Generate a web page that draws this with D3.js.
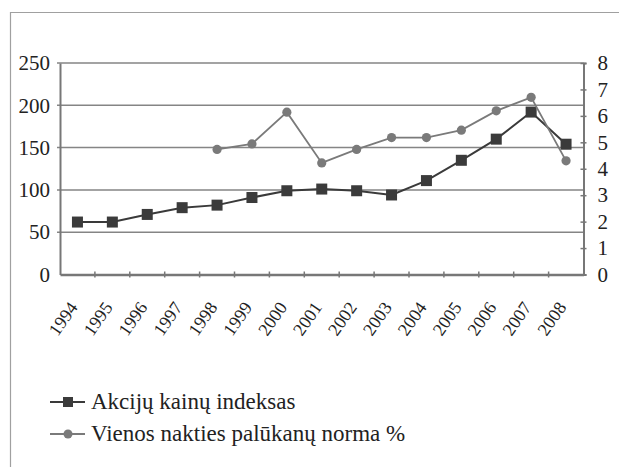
<!DOCTYPE html>
<html>
<head>
<meta charset="utf-8">
<script src="https://cdn.jsdelivr.net/npm/d3@7"></script>
<style>
  body { margin: 0; background: #fff; }
</style>
</head>
<body>
<div id="chart"></div>
<script>
const years = ["1994", "1995", "1996", "1997", "1998", "1999", "2000", "2001",
               "2002", "2003", "2004", "2005", "2006", "2007", "2008"];
// Akcijų kainų indeksas (left axis)
const stockIndex = [62, 62, 71, 79, 82, 91, 99, 101, 99, 94, 111, 135, 160, 192, 154];
// Vienos nakties palūkanų norma % (right axis)
const overnightRate = [null, null, null, null, 4.73, 4.94, 6.14, 4.22, 4.73, 5.18, 5.18, 5.46, 6.19, 6.70, 4.30];
const leftTicks = [0, 50, 100, 150, 200, 250];
const rightTicks = [0, 1, 2, 3, 4, 5, 6, 7, 8];
const seriesNames = ["Akcijų kainų indeksas", "Vienos nakties palūkanų norma %"];

const width = 619;
const height = 467;
const margin = { top: 63, right: 35.5, bottom: 192.5, left: 60 };
const serif = "Liberation Serif, DejaVu Serif, serif";

const svg = d3.select("#chart").append("svg")
    .attr("width", width)
    .attr("height", height)
    .style("font-family", serif);

// outer frame (only top and left edges are visible)
svg.append("path")
    .attr("d", `M10.5,${height} V12.5 H${width}`)
    .attr("fill", "none")
    .attr("stroke", "#a0a0a0")
    .attr("stroke-width", 1.2);

const x = d3.scaleBand()
    .domain(years)
    .range([margin.left, width - margin.right]);

const yLeft = d3.scaleLinear()
    .domain([0, 250])
    .range([height - margin.bottom, margin.top]);

const yRight = d3.scaleLinear()
    .domain([0, 8])
    .range([height - margin.bottom, margin.top]);

// gridlines
svg.append("g")
    .selectAll("line")
    .data(leftTicks.filter(d => d > 0))
    .join("line")
    .attr("x1", margin.left - 3)
    .attr("x2", width - margin.right)
    .attr("y1", d => yLeft(d))
    .attr("y2", d => yLeft(d))
    .attr("stroke", "#858585")
    .attr("stroke-width", 1.5);

// left axis
const gLeft = svg.append("g")
    .attr("transform", `translate(${margin.left},0)`)
    .call(d3.axisLeft(yLeft).tickValues(leftTicks).tickSize(0).tickPadding(10));
gLeft.select(".domain").attr("stroke", "#777").attr("stroke-width", 2);
gLeft.selectAll("text").style("font-family", serif).style("font-size", "21px").attr("fill", "#222");

// right axis
const gRight = svg.append("g")
    .attr("transform", `translate(${width - margin.right},0)`)
    .call(d3.axisRight(yRight).tickValues(rightTicks).tickSize(3).tickPadding(11));
gRight.select(".domain").attr("stroke", "#777").attr("stroke-width", 2);
gRight.selectAll(".tick line").attr("x1", -3).attr("stroke", "#777").attr("stroke-width", 1.5);
gRight.selectAll("text").style("font-family", serif).style("font-size", "21px").attr("fill", "#222");

// bottom axis
const gBottom = svg.append("g")
    .attr("transform", `translate(0,${height - margin.bottom})`)
    .call(d3.axisBottom(x).tickSize(0).tickSizeOuter(0).tickPadding(0));
gBottom.select(".domain").attr("stroke", "#777").attr("stroke-width", 2.5);
gBottom.selectAll(".tick line").remove();
gBottom.selectAll(".tick text")
    .style("font-family", serif)
    .style("font-size", "18px")
    .attr("fill", "#222")
    .attr("text-anchor", "end")
    .attr("dy", 0)
    .attr("transform", "translate(1,33) rotate(-55)");

// category boundary ticks
gBottom.append("g")
    .selectAll("line")
    .data(years.slice(1))
    .join("line")
    .attr("x1", d => x(d))
    .attr("x2", d => x(d))
    .attr("y1", -3)
    .attr("y2", 3)
    .attr("stroke", "#777")
    .attr("stroke-width", 1.5);

const cx = d => x(d) + x.bandwidth() / 2;

// stock index series
const stockData = years.map((d, i) => ({ year: d, value: stockIndex[i] }));
svg.append("path")
    .datum(stockData)
    .attr("fill", "none")
    .attr("stroke", "#3a3a3a")
    .attr("stroke-width", 2)
    .attr("d", d3.line().x(d => cx(d.year)).y(d => yLeft(d.value)));

svg.append("g")
    .selectAll("rect")
    .data(stockData)
    .join("rect")
    .attr("x", d => cx(d.year) - 5.5)
    .attr("y", d => yLeft(d.value) - 5.5)
    .attr("width", 11)
    .attr("height", 11)
    .attr("fill", "#3b3b3b");

// overnight rate series
const rateData = years.map((d, i) => ({ year: d, value: overnightRate[i] }))
    .filter(d => d.value !== null);
svg.append("path")
    .datum(rateData)
    .attr("fill", "none")
    .attr("stroke", "#7a7a7a")
    .attr("stroke-width", 1.8)
    .attr("d", d3.line().x(d => cx(d.year)).y(d => yRight(d.value)));

svg.append("g")
    .selectAll("circle")
    .data(rateData)
    .join("circle")
    .attr("cx", d => cx(d.year))
    .attr("cy", d => yRight(d.value))
    .attr("r", 4.6)
    .attr("fill", "#7a7a7a");

// legend
const legend = svg.append("g").attr("transform", "translate(50,402)");
const items = legend.selectAll("g")
    .data(seriesNames)
    .join("g")
    .attr("transform", (d, i) => `translate(0,${i * 32})`);

items.append("line")
    .attr("x1", 0).attr("x2", 35)
    .attr("stroke", (d, i) => i === 0 ? "#3a3a3a" : "#7a7a7a")
    .attr("stroke-width", 2);

items.filter((d, i) => i === 0).append("rect")
    .attr("x", 13).attr("y", -5).attr("width", 10).attr("height", 10)
    .attr("fill", "#3b3b3b");

items.filter((d, i) => i === 1).append("circle")
    .attr("cx", 18).attr("r", 4.5)
    .attr("fill", "#7a7a7a");

items.append("text")
    .attr("x", 41)
    .attr("y", 7)
    .style("font-family", serif)
    .style("font-size", "23px")
    .attr("fill", "#222")
    .text(d => d);
</script>
</body>
</html>
